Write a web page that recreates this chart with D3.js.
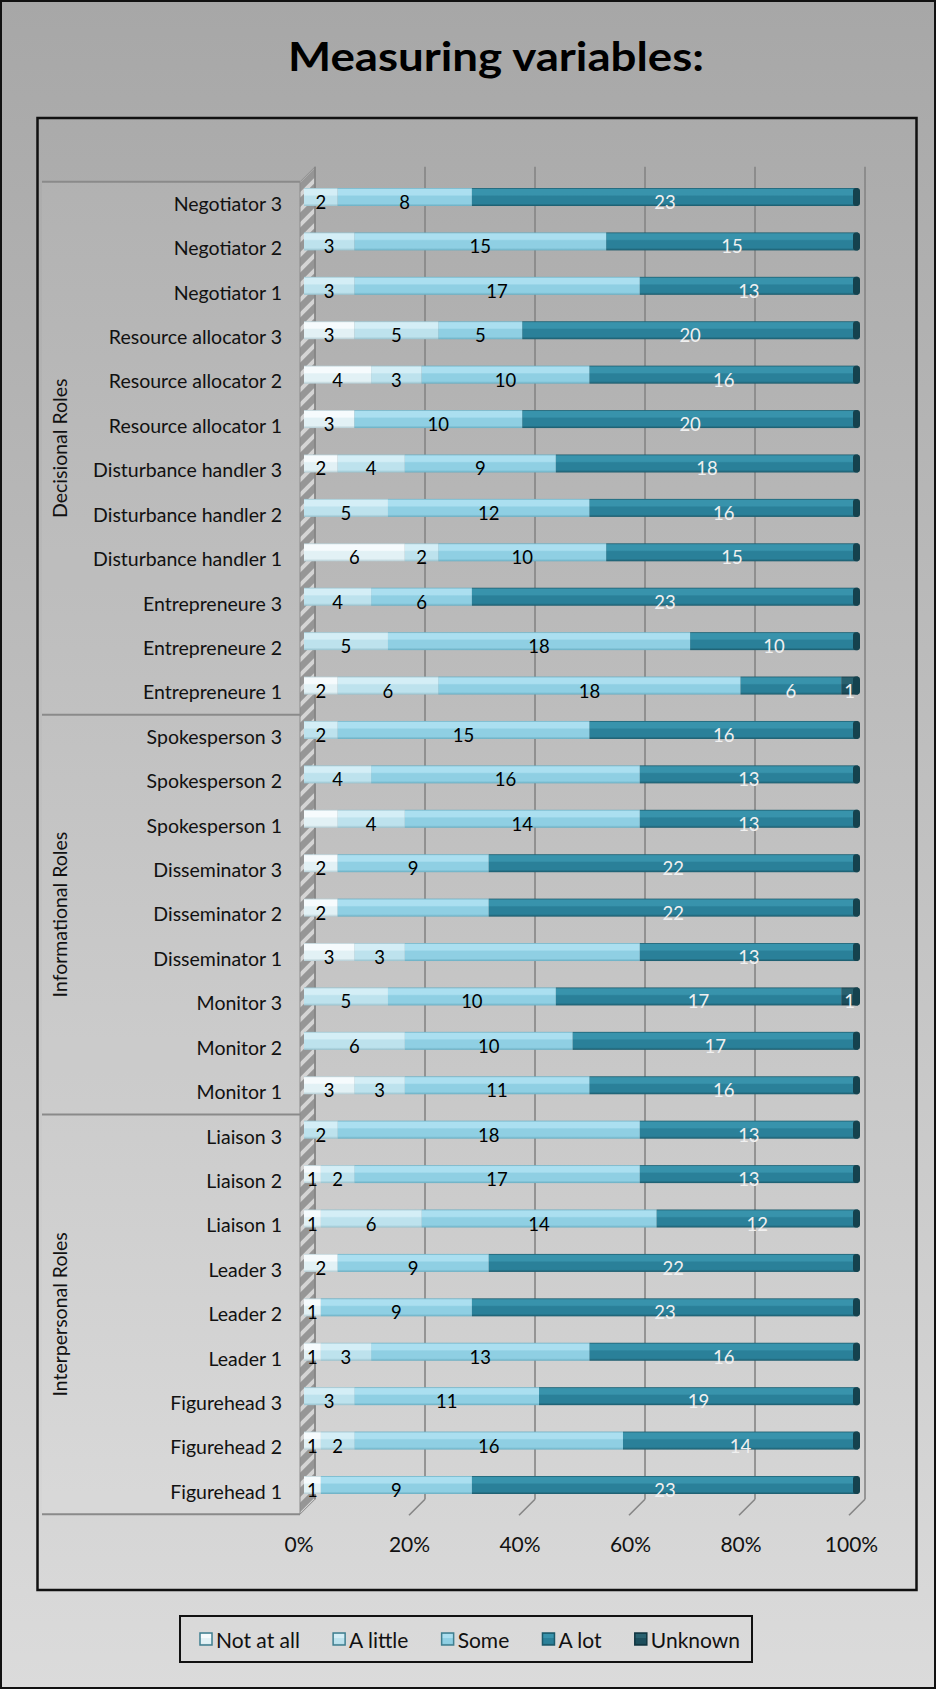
<!DOCTYPE html>
<html><head><meta charset="utf-8">
<script src="https://cdn.jsdelivr.net/npm/d3@7"></script>
<style>
body{margin:0;background:#fff;}
svg{display:block;}
text{font-family:Lato,'Open Sans',sans-serif;}
</style>
</head><body>
<svg id="chart" width="936" height="1689"></svg>
<script>
// ---------------- DATA ----------------
const categories = ["Negotiator 3","Negotiator 2","Negotiator 1",
  "Resource allocator 3","Resource allocator 2","Resource allocator 1",
  "Disturbance handler 3","Disturbance handler 2","Disturbance handler 1",
  "Entrepreneure 3","Entrepreneure 2","Entrepreneure 1",
  "Spokesperson 3","Spokesperson 2","Spokesperson 1",
  "Disseminator 3","Disseminator 2","Disseminator 1",
  "Monitor 3","Monitor 2","Monitor 1",
  "Liaison 3","Liaison 2","Liaison 1",
  "Leader 3","Leader 2","Leader 1",
  "Figurehead 3","Figurehead 2","Figurehead 1"];
const notAtAll = [0,0,0, 3,4,3, 2,0,6, 0,0,2, 0,0,2, 2,2,3, 0,0,3, 0,1,1, 2,1,1, 0,1,1];
const aLittle  = [2,3,3, 5,3,0, 4,5,2, 4,5,6, 2,4,4, 0,0,3, 5,6,3, 2,2,6, 0,0,3, 3,2,0];
const some     = [8,15,17, 5,10,10, 9,12,10, 6,18,18, 15,16,14, 9,9,14, 10,10,11, 18,17,14, 9,9,13, 11,16,9];
const aLot     = [23,15,13, 20,16,20, 18,16,15, 23,10,6, 16,13,13, 22,22,13, 17,17,16, 13,13,12, 22,23,16, 19,14,23];
const unknown  = [0,0,0, 0,0,0, 0,0,0, 0,0,1, 0,0,0, 0,0,0, 1,0,0, 0,0,0, 0,0,0, 0,0,0];
const seriesNames = ["Not at all","A little","Some","A lot","Unknown"];
const groupNames = ["Decisional Roles","Informational Roles","Interpersonal Roles"];
const groupSizes = [12, 9, 9];
const xTickLabels = ["0%","20%","40%","60%","80%","100%"];
const hiddenLabels = [["Spokesperson 1","Not at all"],["Disseminator 2","Some"],["Disseminator 1","Some"]];
const titleText = "Measuring variables:";

// ---------------- STYLE ----------------
const seriesColors = {
  "Not at all": ["#f6fbfd","#e2f1f5","#b4ccd3"],
  "A little":   ["#d4eef6","#bde2ed","#97c1cd"],
  "Some":       ["#abdff0","#8fcfe3","#6aaec2"],
  "A lot":      ["#3893ac","#2a8099","#1b5a6b"],
  "Unknown":    ["#29616f","#1c4e5c","#113641"]
};
const labelColors = {"Not at all":"#000","A little":"#000","Some":"#000","A lot":"#f0f0f0","Unknown":"#f0f0f0"};

const W = 936, H = 1689;
const svg = d3.select("#chart");
const defs = svg.append("defs");

const bg = defs.append("linearGradient").attr("id","bg").attr("x1",0).attr("y1",0).attr("x2",0).attr("y2",1);
bg.append("stop").attr("offset","0%").attr("stop-color","#a7a7a7");
bg.append("stop").attr("offset","100%").attr("stop-color","#dbdbdb");

seriesNames.forEach((s,i)=>{
  const c = seriesColors[s];
  const g = defs.append("linearGradient").attr("id","g"+i).attr("x1",0).attr("y1",0).attr("x2",0).attr("y2",1);
  g.append("stop").attr("offset","0%").attr("stop-color",c[2]);
  g.append("stop").attr("offset","8%").attr("stop-color",c[0]);
  g.append("stop").attr("offset","38%").attr("stop-color",c[0]);
  g.append("stop").attr("offset","46%").attr("stop-color",c[1]);
  g.append("stop").attr("offset","86%").attr("stop-color",c[1]);
  g.append("stop").attr("offset","100%").attr("stop-color",c[2]);
});

const pat = defs.append("pattern").attr("id","wallpat").attr("patternUnits","userSpaceOnUse")
  .attr("width",15).attr("height",15);
pat.append("rect").attr("width",15).attr("height",15).attr("fill","#969696");
pat.append("path").attr("d","M-2,17 L17,-2 M-2,2 L2,-2 M13,17 L17,13").attr("stroke","#d4d4d4").attr("stroke-width",4);

// background + frames
svg.append("rect").attr("x",0).attr("y",0).attr("width",W).attr("height",H).attr("fill","url(#bg)");
svg.append("rect").attr("x",1).attr("y",1).attr("width",W-2).attr("height",H-2)
  .attr("fill","none").attr("stroke","#111").attr("stroke-width",2);
svg.append("rect").attr("x",37.5).attr("y",118).attr("width",879).attr("height",1472)
  .attr("fill","none").attr("stroke","#111").attr("stroke-width",2.5);

// title (narrow, tall like the original)
svg.append("text").attr("x",288).attr("y",71)
  .attr("font-weight","bold").attr("font-size",41).attr("fill","#000")
  .attr("textLength",416).attr("lengthAdjust","spacingAndGlyphs").text(titleText);

// ---------------- SCALES ----------------
const depth = 15;
const y = d3.scaleBand().domain(categories).range([181.8, 1514.2]);
const x = d3.scaleLinear().domain([0,1]).range([304, 858]);
const xFront = d3.scaleLinear().domain([0,1]).range([298.5, 851]);
const xBack = d3.scaleLinear().domain([0,1]).range([315, 865]);
const bw = y.bandwidth();
const barH = 18;
const barC = c => y(c) + bw/2 - 7;

// rows & stack
const rows = categories.map((c,i)=>({cat:c,"Not at all":notAtAll[i],"A little":aLittle[i],"Some":some[i],"A lot":aLot[i],"Unknown":unknown[i]}));
const stack = d3.stack().keys(seriesNames).offset(d3.stackOffsetExpand)(rows);

// category panel
const yTop = y.range()[0], yBot = y.range()[1];
svg.append("rect").attr("x",42).attr("y",yTop).attr("width",258).attr("height",yBot-yTop)
  .attr("fill","#ffffff").attr("opacity",0.07);
let acc = 0;
const bounds = [yTop];
groupSizes.forEach(n=>{ acc += n; bounds.push(y(categories[acc-1]) + bw); });
bounds.forEach(b=>{
  svg.append("line").attr("x1",42).attr("x2",300).attr("y1",b).attr("y2",b)
    .attr("stroke","#8a8a8a").attr("stroke-width",2);
});
groupNames.forEach((g,i)=>{
  const cy = (bounds[i]+bounds[i+1])/2;
  svg.append("text").attr("transform",`translate(59,${cy}) rotate(-90)`).attr("text-anchor","middle")
    .attr("dominant-baseline","central").attr("font-size",19.5).attr("fill","#111").text(g);
});

// wall
svg.append("path").attr("d",`M300,${yTop} L${300+depth},${yTop-depth} L${300+depth},${yBot-depth} L300,${yBot} Z`)
  .attr("fill","url(#wallpat)").attr("stroke","#8a8a8a").attr("stroke-width",1);

// gridlines + floor ticks
const gv = [0,0.2,0.4,0.6,0.8,1];
svg.append("g").selectAll("line").data(gv).join("line")
  .attr("x1",d=>xBack(d)).attr("x2",d=>xBack(d)).attr("y1",yTop-depth).attr("y2",yBot-depth)
  .attr("stroke","#858585").attr("stroke-width",1.6);
svg.append("g").selectAll("line").data(gv.slice(1)).join("line")
  .attr("x1",d=>xBack(d)).attr("x2",d=>xBack(d)-16).attr("y1",yBot-depth).attr("y2",yBot+1)
  .attr("stroke","#858585").attr("stroke-width",1.6);

// category axis
const ya = svg.append("g").attr("transform","translate(288,0)")
  .call(d3.axisLeft(y).tickSize(0).tickPadding(6));
ya.select(".domain").remove();
ya.selectAll("text").attr("font-size",19.5).attr("fill","#111").attr("font-family","Lato,'Open Sans',sans-serif")
  .attr("dy","0.35em");

// x axis
const xa = svg.append("g").attr("transform","translate(0,1545)")
  .call(d3.axisBottom(xFront).tickValues(gv).tickSize(0).tickFormat((d,i)=>xTickLabels[i]));
xa.select(".domain").remove();
xa.selectAll("text").attr("y",0).attr("dy","0.35em").attr("font-size",21).attr("fill","#111")
  .attr("font-family","Lato,'Open Sans',sans-serif");

// bars
const hiddenSet = new Set(hiddenLabels.map(d=>d[0]+"|"+d[1]));
const layers = svg.append("g").selectAll("g").data(stack).join("g")
  .attr("fill",(d,i)=>`url(#g${i})`);
layers.selectAll("rect").data(d=>d.map(p=>({p,key:d.key}))).join("rect")
  .attr("x",d=>x(d.p[0])).attr("width",d=>Math.max(0,x(d.p[1])-x(d.p[0])))
  .attr("y",d=>barC(d.p.data.cat)-barH/2).attr("height",barH);

// end caps
svg.append("g").selectAll("rect").data(categories).join("rect")
  .attr("x",x(1)-5).attr("width",7).attr("y",c=>barC(c)-barH/2).attr("height",barH)
  .attr("rx",3).attr("fill","#15424e");

// data labels
const labG = svg.append("g");
stack.forEach(layer=>{
  layer.forEach(p=>{
    const v = p.data[layer.key];
    if (!v) return;
    if (hiddenSet.has(p.data.cat+"|"+layer.key)) return;
    labG.append("text").attr("x",(x(p[0])+x(p[1]))/2).attr("y",barC(p.data.cat)+5)
      .attr("text-anchor","middle").attr("dominant-baseline","central")
      .attr("font-size",18.5).attr("fill",labelColors[layer.key]).text(v);
  });
});

// legend
const lg = svg.append("g");
const items = seriesNames.map((s,i)=>{
  const t = lg.append("text").attr("y",1639).attr("dominant-baseline","central")
    .attr("font-size",21).attr("fill","#111").text(s);
  return {s,i,t,w:t.node().getComputedTextLength()};
});
const startX = 200, endX = 740;
const sumW = d3.sum(items, d=>16+d.w);
const gap = (endX-startX-sumW)/(items.length-1);
let cx = startX;
items.forEach(d=>{
  const c = seriesColors[d.s];
  lg.append("rect").attr("x",cx).attr("y",1633).attr("width",12).attr("height",12)
    .attr("fill",`url(#g${d.i})`).attr("stroke", d.i<3 ? "#3f7f90" : c[2]).attr("stroke-width",1.5);
  d.t.attr("x",cx+16);
  cx += 16 + d.w + gap;
});
svg.append("rect").attr("x",180).attr("y",1616).attr("width",572).attr("height",46)
  .attr("fill","none").attr("stroke","#111").attr("stroke-width",2);
</script>
</body></html>
